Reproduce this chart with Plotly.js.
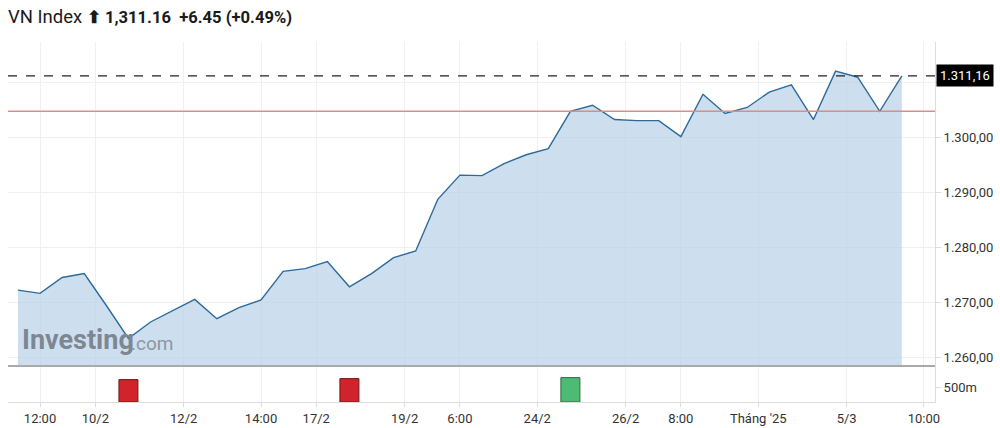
<!DOCTYPE html>
<html>
<head>
<meta charset="utf-8">
<script src="https://cdn.plot.ly/plotly-3.0.1.min.js"></script>
<style>html,body{margin:0;padding:0;background:#fff;}#chart{width:1000px;height:428px;}</style>
</head>
<body>
<div id="chart"></div>
<script>
// Point index along the (gap-free) time axis
const pointIndex = [0,1,2,3,4,5,6,7,8,9,10,11,12,13,14,15,16,17,18,19,20,21,22,23,24,25,26,27,28,29,30,31,32,33,34,35,36,37,38,39,40];
// VN Index closing values
const indexValues = [1272.2,1271.6,1274.5,1275.2,1269.4,1263.4,1266.4,1268.5,1270.5,1267.0,1269.0,1270.4,1275.6,1276.1,1277.4,1272.8,1275.2,1278.1,1279.3,1288.7,1293.1,1293.0,1295.2,1296.8,1297.9,1304.7,1305.8,1303.2,1303.0,1303.0,1300.1,1307.8,1304.3,1305.4,1308.2,1309.5,1303.2,1312.0,1310.9,1304.7,1311.16];
// Volume bars (millions)
const volumeIndex = [5, 15, 25];
const volumeValues = [747, 780, 813];
const volumeColors = ['#d0232b', '#d0232b', '#4dbb73'];
const volumeBorders = ['#6e1a1a', '#6e1a1a', '#2d6a3f'];
// Reference levels
const lastValue = 1311.16;
const prevClose = 1304.71;
// X tick labels
const xTickPos = [1, 3.5, 7.5, 11, 13.5, 17.5, 20, 23.5, 27.5, 30, 33.5, 37.5, 41];
const xTickText = ['12:00', '10/2', '12/2', '14:00', '17/2', '19/2', '6:00', '24/2', '26/2', '8:00', "Tháng '25", '5/3', '10:00'];
// Y tick labels
const yTickVals = [1260, 1270, 1280, 1290, 1300, 1310];
const yTickText = ['1.260,00', '1.270,00', '1.280,00', '1.290,00', '1.300,00', ''];

const traces = [
  {
    x: pointIndex, y: indexValues, type: 'scatter', mode: 'lines',
    line: {color: '#2c6a9a', width: 1.4},
    fill: 'tozeroy', fillcolor: 'rgba(178,206,230,0.65)',
    xaxis: 'x', yaxis: 'y', hoverinfo: 'skip'
  },
  {
    x: volumeIndex, y: volumeValues, type: 'bar', width: 0.86,
    marker: {color: volumeColors, line: {color: volumeBorders, width: 1}},
    xaxis: 'x', yaxis: 'y2', hoverinfo: 'skip'
  }
];

const layout = {
  width: 1000, height: 428,
  margin: {l: 8, r: 65, t: 42, b: 26},
  paper_bgcolor: '#ffffff', plot_bgcolor: '#ffffff',
  showlegend: false,
  separators: ',.',
  font: {family: 'Roboto, Arial, sans-serif', color: '#333', size: 13},
  title: {
    text: 'VN Index <span style="font-size:16.6px"><b>⬆ 1,311.16</b>  <b>+6.45 (+0.49%)</b></span>',
    x: 0.008, xanchor: 'left', y: 0.962, yanchor: 'middle',
    font: {family: 'Roboto, Arial, sans-serif', size: 18.5, color: '#1a1a1a'}
  },
  xaxis: {
    range: [-0.45, 41.5],
    tickvals: xTickPos, ticktext: xTickText,
    showgrid: true, gridcolor: '#f0f0f0', gridwidth: 1,
    showline: true, linecolor: '#dddddd', linewidth: 1,
    ticks: 'outside', ticklen: 4, tickcolor: '#dddddd',
    tickfont: {size: 13, color: '#333'},
    anchor: 'y2', zeroline: false, fixedrange: true
  },
  yaxis: {
    domain: [0.1, 1], side: 'right',
    range: [1258.4, 1317.3],
    tickvals: yTickVals, ticktext: yTickText,
    showgrid: true, gridcolor: '#f0f0f0',
    showline: true, linecolor: '#dddddd',
    ticks: 'outside', ticklen: 5, tickcolor: '#dddddd',
    tickfont: {size: 13, color: '#333'},
    zeroline: false, anchor: 'x'
  },
  yaxis2: {
    domain: [0, 0.1], side: 'right',
    range: [0, 1200],
    tickvals: [500], ticktext: ['500m'],
    showgrid: false,
    showline: true, linecolor: '#dddddd',
    ticks: 'outside', ticklen: 5, tickcolor: '#dddddd',
    tickfont: {size: 13, color: '#333'},
    zeroline: false, anchor: 'x'
  },
  shapes: [
    {type: 'line', xref: 'paper', x0: 0, x1: 1, yref: 'y', y0: prevClose, y1: prevClose,
     line: {color: '#e08a8a', width: 1.3}},
    {type: 'line', xref: 'paper', x0: 0, x1: 1, yref: 'y', y0: lastValue, y1: lastValue,
     line: {color: '#222', width: 1.3, dash: 'dash'}},
    {type: 'line', xref: 'paper', x0: 0, x1: 1, yref: 'paper', y0: 0.1, y1: 0.1,
     line: {color: '#aaaaaa', width: 2}}
  ],
  annotations: [
    {xref: 'paper', x: 1.0, xanchor: 'left', yref: 'y', y: lastValue, yanchor: 'middle',
     text: lastValue.toFixed(2).replace('.', ',').replace(/^(\d)(\d{3})/, '$1.$2'),
     showarrow: false, bgcolor: '#000', borderpad: 3, xshift: 1,
     font: {color: '#fff', size: 13, family: 'Roboto, Arial, sans-serif'}},
    {xref: 'paper', x: 0.013, xanchor: 'left', yref: 'paper', y: 0.172, yanchor: 'middle',
     text: '<b>Investing</b>', showarrow: false,
     font: {color: '#7d8794', size: 27, family: 'Roboto, Arial, sans-serif'}},
    {xref: 'paper', x: 0.130, xanchor: 'left', yref: 'paper', y: 0.163, yanchor: 'middle',
     text: '.com', showarrow: false,
     font: {color: '#8d96a2', size: 19, family: 'Roboto, Arial, sans-serif'}}
  ]
};

Plotly.newPlot('chart', traces, layout, {displayModeBar: false, staticPlot: true});
</script>
</body>
</html>
